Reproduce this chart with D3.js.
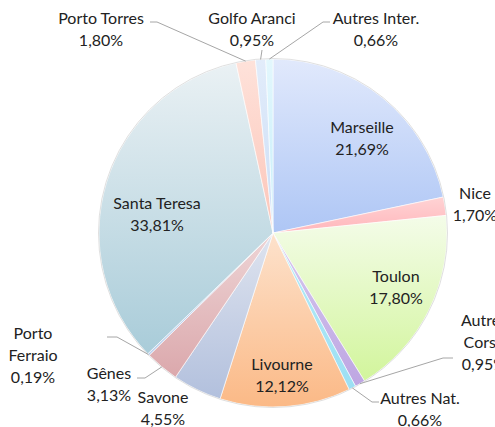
<!DOCTYPE html>
<html>
<head>
<meta charset="utf-8">
<script src="https://cdn.jsdelivr.net/npm/d3@7"></script>
<style>
  body { margin: 0; background: #fff; }
  svg text { font-family: Lato, "Open Sans", sans-serif; font-size: 16px; fill: #222; }
</style>
</head>
<body>
<svg id="chart" width="495" height="427"></svg>
<script>
// data, clockwise from 12 o'clock
const ports = ["Marseille", "Nice", "Toulon", "Autres Corse", "Autres Nat.", "Livourne", "Savone",
  "Gênes", "Porto Ferraio", "Santa Teresa", "Porto Torres", "Golfo Aranci", "Autres Inter."];
const shares = [21.69, 1.70, 17.80, 0.95, 0.66, 12.12, 4.55, 3.13, 0.19, 33.81, 1.80, 0.95, 0.66];
const labelLines = [["Marseille"], ["Nice"], ["Toulon"], ["Autres", "Corse"], ["Autres Nat."], ["Livourne"],
  ["Savone"], ["Gênes"], ["Porto", "Ferraio"], ["Santa Teresa"], ["Porto Torres"], ["Golfo Aranci"], ["Autres Inter."]];

const topColors = ["#e1e9fc", "#ffd3d4", "#f4fce9", "#d6c9ef", "#b6ecf8", "#fde2cc", "#dfe4ef",
  "#eed5d6", "#cddcf0", "#eaf1f4", "#fee2da", "#e2ecfa", "#e3f7fd"];
const bottomColors = ["#aec6f5", "#ffb6bb", "#d2f59c", "#bea6e2", "#9cdff3", "#fbb986", "#b2c0dd",
  "#dba8ac", "#b9cfee", "#a9ccd9", "#fcc5b9", "#cbdef7", "#c6eefa"];

const cx = 273, cy = 233, radius = 174;

const svg = d3.select("#chart");
const defs = svg.append("defs");

ports.forEach((p, i) => {
  const g = defs.append("linearGradient")
    .attr("id", "grad" + i)
    .attr("x1", 0).attr("y1", 0).attr("x2", 0).attr("y2", 1);
  g.append("stop").attr("offset", "0%").attr("stop-color", topColors[i]);
  g.append("stop").attr("offset", "100%").attr("stop-color", bottomColors[i]);
});

const data = ports.map((p, i) => ({ name: p, value: shares[i], idx: i }));

const pie = d3.pie().value(d => d.value).sort(null);
const arcs = pie(data);

const arc = d3.arc().innerRadius(0).outerRadius(radius);

const g = svg.append("g").attr("transform", `translate(${cx},${cy})`);

g.selectAll("path.slice")
  .data(arcs)
  .enter()
  .append("path")
  .attr("class", "slice")
  .attr("d", arc)
  .attr("fill", d => `url(#grad${d.data.idx})`)
  .attr("stroke", "#ffffff")
  .attr("stroke-width", 0.6);

// faint outline round the pie
g.append("circle")
  .attr("r", radius + 0.5)
  .attr("fill", "none")
  .attr("stroke", "#e0e0e0")
  .attr("stroke-width", 1);

// label anchors (centre of the text block, relative to pie centre) and leader elbows
const labelPos = {
  "Marseille":     { x: 89, y: -95 },
  "Toulon":        { x: 123, y: 54 },
  "Livourne":      { x: 9, y: 142 },
  "Santa Teresa":  { x: -116, y: -19 },
  "Nice":          { x: 202, y: -29 },
  "Autres Corse":  { x: 211, y: 109, elbow: [170, 125], end: [180, 125] },
  "Autres Nat.":   { x: 147, y: 176, elbow: [99, 169], end: [106, 169] },
  "Savone":        { x: -110, y: 175 },
  "Gênes":         { x: -164, y: 151, elbow: [-128, 145], end: [-136, 145] },
  "Porto Ferraio": { x: -240, y: 122, elbow: [-156, 104], end: [-166, 104] },
  "Porto Torres":  { x: -172, y: -204, elbow: [-116, -211], end: [-123, -211] },
  "Golfo Aranci":  { x: -21, y: -204, elbow: [-11, -183], end: [-11, -183] },
  "Autres Inter.": { x: 103, y: -204, elbow: [50, -211], end: [57, -211] }
};

const fmt = v => v.toFixed(2).replace(".", ",") + "%";
const lineH = 22;

arcs.forEach(d => {
  const name = d.data.name;
  const lines = labelLines[d.data.idx].concat([fmt(d.data.value)]);
  const mid = (d.startAngle + d.endAngle) / 2;
  const o = labelPos[name];
  const lx = o.x;
  const ly = o.y - (lines.length - 1) * lineH / 2;
  if (o.elbow) {
    const p0 = [Math.sin(mid) * radius, -Math.cos(mid) * radius];
    g.append("path")
      .attr("d", d3.line()([p0, o.elbow, o.end]))
      .attr("fill", "none")
      .attr("stroke", "#a6a6a6")
      .attr("stroke-width", 1);
  }
  const t = g.append("text")
    .attr("text-anchor", "middle")
    .attr("x", lx)
    .attr("y", ly);
  lines.forEach((s, k) => {
    t.append("tspan")
      .attr("x", lx)
      .attr("dy", k === 0 ? "0.35em" : lineH)
      .text(s);
  });
});
</script>
</body>
</html>
